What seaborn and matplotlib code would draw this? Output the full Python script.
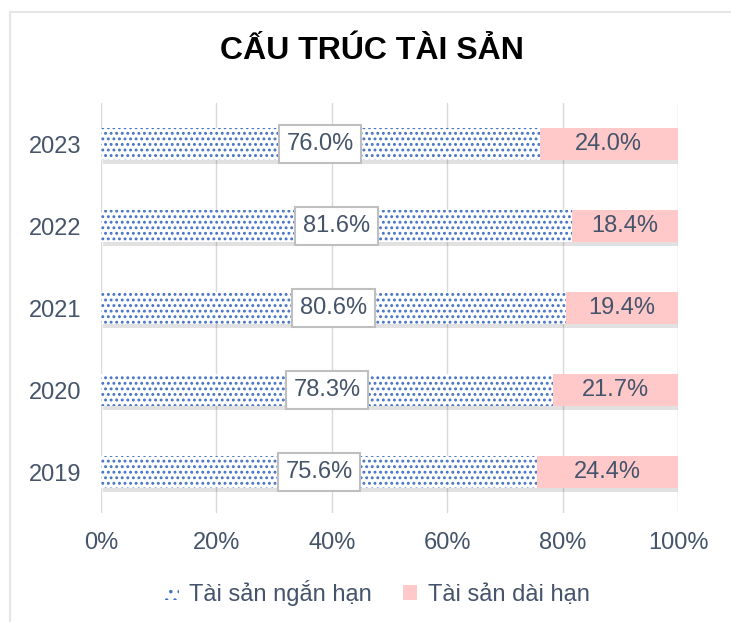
import pandas as pd
import seaborn as sns
import matplotlib.pyplot as plt
import matplotlib.patheffects as pe
from matplotlib.patches import Rectangle, Patch

years = ["2023", "2022", "2021", "2020", "2019"]
ngan_han = [76.0, 81.6, 80.6, 78.3, 75.6]
dai_han = [24.0, 18.4, 19.4, 21.7, 24.4]
xticks = [0, 20, 40, 60, 80, 100]

TEXT = "#44546A"
PINK = "#FFC9C9"
BLUE = "#4472C4"

sns.set_theme(style="white")
plt.rcParams["font.family"] = ["Liberation Sans", "DejaVu Sans"]
plt.rcParams["hatch.linewidth"] = 1.3

df = pd.DataFrame({"year": years, "ngan": ngan_han, "dai": dai_han})
df["tong"] = df["ngan"] + df["dai"]

fig = plt.figure(figsize=(7.31, 6.22), dpi=100)
ax = fig.add_axes([0.1382, 0.1752, 0.7893, 0.6592])

# khung ngoai
fig.patches.append(Rectangle((10 / 731, -0.1), 1.2, 1 - 12 / 622 + 0.1,
                             transform=fig.transFigure, fill=False,
                             ec="#E6E6E6", lw=1.5, zorder=0))

# thanh dai han (full 100) co bong
sns.barplot(data=df, y="year", x="tong", orient="h", color=PINK,
            width=0.4, ax=ax, saturation=1, zorder=2)
for p in ax.patches:
    p.set_linewidth(0)
    p.set_path_effects([pe.withSimplePatchShadow(offset=(1.5, -2.5),
                                                 shadow_rgbFace="k",
                                                 alpha=0.13), pe.Normal()])
n_first = len(ax.patches)

sns.barplot(data=df, y="year", x="ngan", orient="h", color="white",
            width=0.4, ax=ax, saturation=1, zorder=3)
for p in ax.patches[n_first:]:
    p.set_facecolor("white")
    p.set_edgecolor(BLUE)
    p.set_hatch("...")
    p.set_linewidth(0)

# nhan
for i, (a, b) in enumerate(zip(ngan_han, dai_han)):
    ax.text(a / 2, i, f"{a:.1f}%", ha="center", va="center", fontsize=17,
            color=TEXT, zorder=5,
            bbox=dict(boxstyle="square,pad=0.32", fc="white", ec="#BFBFBF",
                      lw=1.5))
    ax.text(a + b / 2, i, f"{b:.1f}%", ha="center", va="center",
            fontsize=17, color=TEXT, zorder=5)

ax.set_xlim(0, 100)
ax.set_ylim(4.5, -0.5)
ax.set_xticks(xticks)
ax.set_xticklabels([f"{t}%" for t in xticks])
ax.grid(axis="x", color="#D9D9D9", lw=1)
ax.set_axisbelow(True)
ax.tick_params(axis="both", length=0, labelsize=17, labelcolor=TEXT)
ax.tick_params(axis="x", pad=14)
ax.tick_params(axis="y", pad=14)
ax.set_xlabel("")
ax.set_ylabel("")
sns.despine(ax=ax, left=True, bottom=True)

fig.text(372 / 731, 1 - 51 / 622, "CẤU TRÚC TÀI SẢN", ha="center",
         va="center", fontsize=23, fontweight="bold", color="black",
         family=["Liberation Sans Narrow", "Liberation Sans", "DejaVu Sans"])

handles = [Patch(facecolor="white", edgecolor=BLUE, hatch="..", lw=0),
           Patch(facecolor=PINK, lw=0)]
fig.legend(handles, ["Tài sản ngắn hạn", "Tài sản dài hạn"], loc="center",
           bbox_to_anchor=(377 / 731, 1 - 593 / 622), ncol=2, frameon=False,
           fontsize=17, labelcolor=TEXT, handlelength=0.6, handleheight=0.6,
           handletextpad=0.45, columnspacing=1.3)

fig.savefig("out.png", dpi=100, facecolor="white")
